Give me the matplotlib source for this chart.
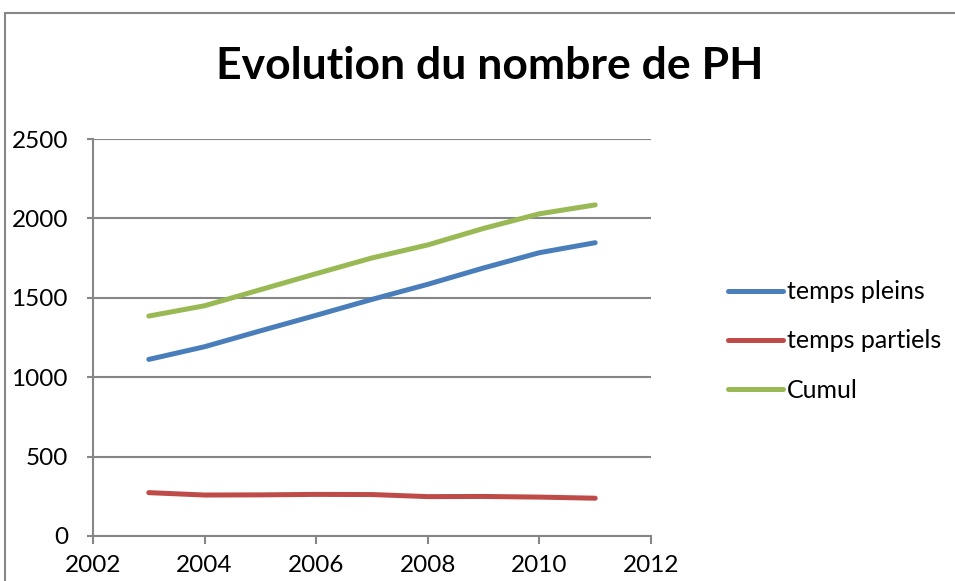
import matplotlib
matplotlib.use('Agg')
import matplotlib.pyplot as plt
from matplotlib.patches import Rectangle

plt.rcParams['font.family'] = ['Lato', 'DejaVu Sans']

years = [2003, 2004, 2005, 2006, 2007, 2008, 2009, 2010, 2011]
temps_pleins = [1112, 1192, 1292, 1390, 1490, 1585, 1688, 1784, 1847]
temps_partiels = [273, 258, 259, 262, 261, 248, 249, 245, 238]
cumul = [1385, 1450, 1551, 1652, 1751, 1833, 1937, 2029, 2085]

x_ticks = [2002, 2004, 2006, 2008, 2010, 2012]
y_ticks = [0, 500, 1000, 1500, 2000, 2500]

blue = '#4a7ebb'
red = '#be4b48'
green = '#98b954'
grid_col = '#868686'

fig = plt.figure(figsize=(9.55, 5.81), dpi=100)

# outer chart frame (like the excel chart area)
fig.patches.append(Rectangle((5 / 955, -0.1), 1.0, 1 - 13 / 581 + 0.1,
                             transform=fig.transFigure, fill=False,
                             edgecolor=grid_col, linewidth=1.5))

ax = fig.add_axes([93 / 955, 1 - 536 / 581, 558 / 955, 397 / 581])

ax.plot(years, temps_pleins, color=blue, lw=3.6, label='temps pleins', solid_capstyle='round')
ax.plot(years, temps_partiels, color=red, lw=3.6, label='temps partiels', solid_capstyle='round')
ax.plot(years, cumul, color=green, lw=3.6, label='Cumul', solid_capstyle='round')

ax.set_xlim(2002, 2012)
ax.set_ylim(0, 2500)
ax.set_xticks(x_ticks)
ax.set_yticks(y_ticks)
ax.grid(axis='y', color=grid_col, lw=1.5)
ax.set_axisbelow(True)

for s in ['top', 'right']:
    ax.spines[s].set_visible(False)
for s in ['left', 'bottom']:
    ax.spines[s].set_color(grid_col)
    ax.spines[s].set_linewidth(1.5)

ax.tick_params(axis='both', colors=grid_col, labelcolor='black', labelsize=17.5,
               width=1.5, direction='out')
ax.tick_params(axis='y', length=4, pad=14)
ax.tick_params(axis='x', length=6, pad=8)

fig.text(490 / 955, 1 - 66 / 581, 'Evolution du nombre de PH', ha='center', va='center',
         fontsize=32, fontweight='bold')

leg = ax.legend(loc='center left', bbox_to_anchor=(728 / 955, 1 - 341 / 581),
                bbox_transform=fig.transFigure, frameon=False, fontsize=18,
                borderpad=0, borderaxespad=0,
                handlelength=2.2, handletextpad=0.15, labelspacing=1.05)

plt.savefig('out.png', dpi=100)
plt.close(fig)
